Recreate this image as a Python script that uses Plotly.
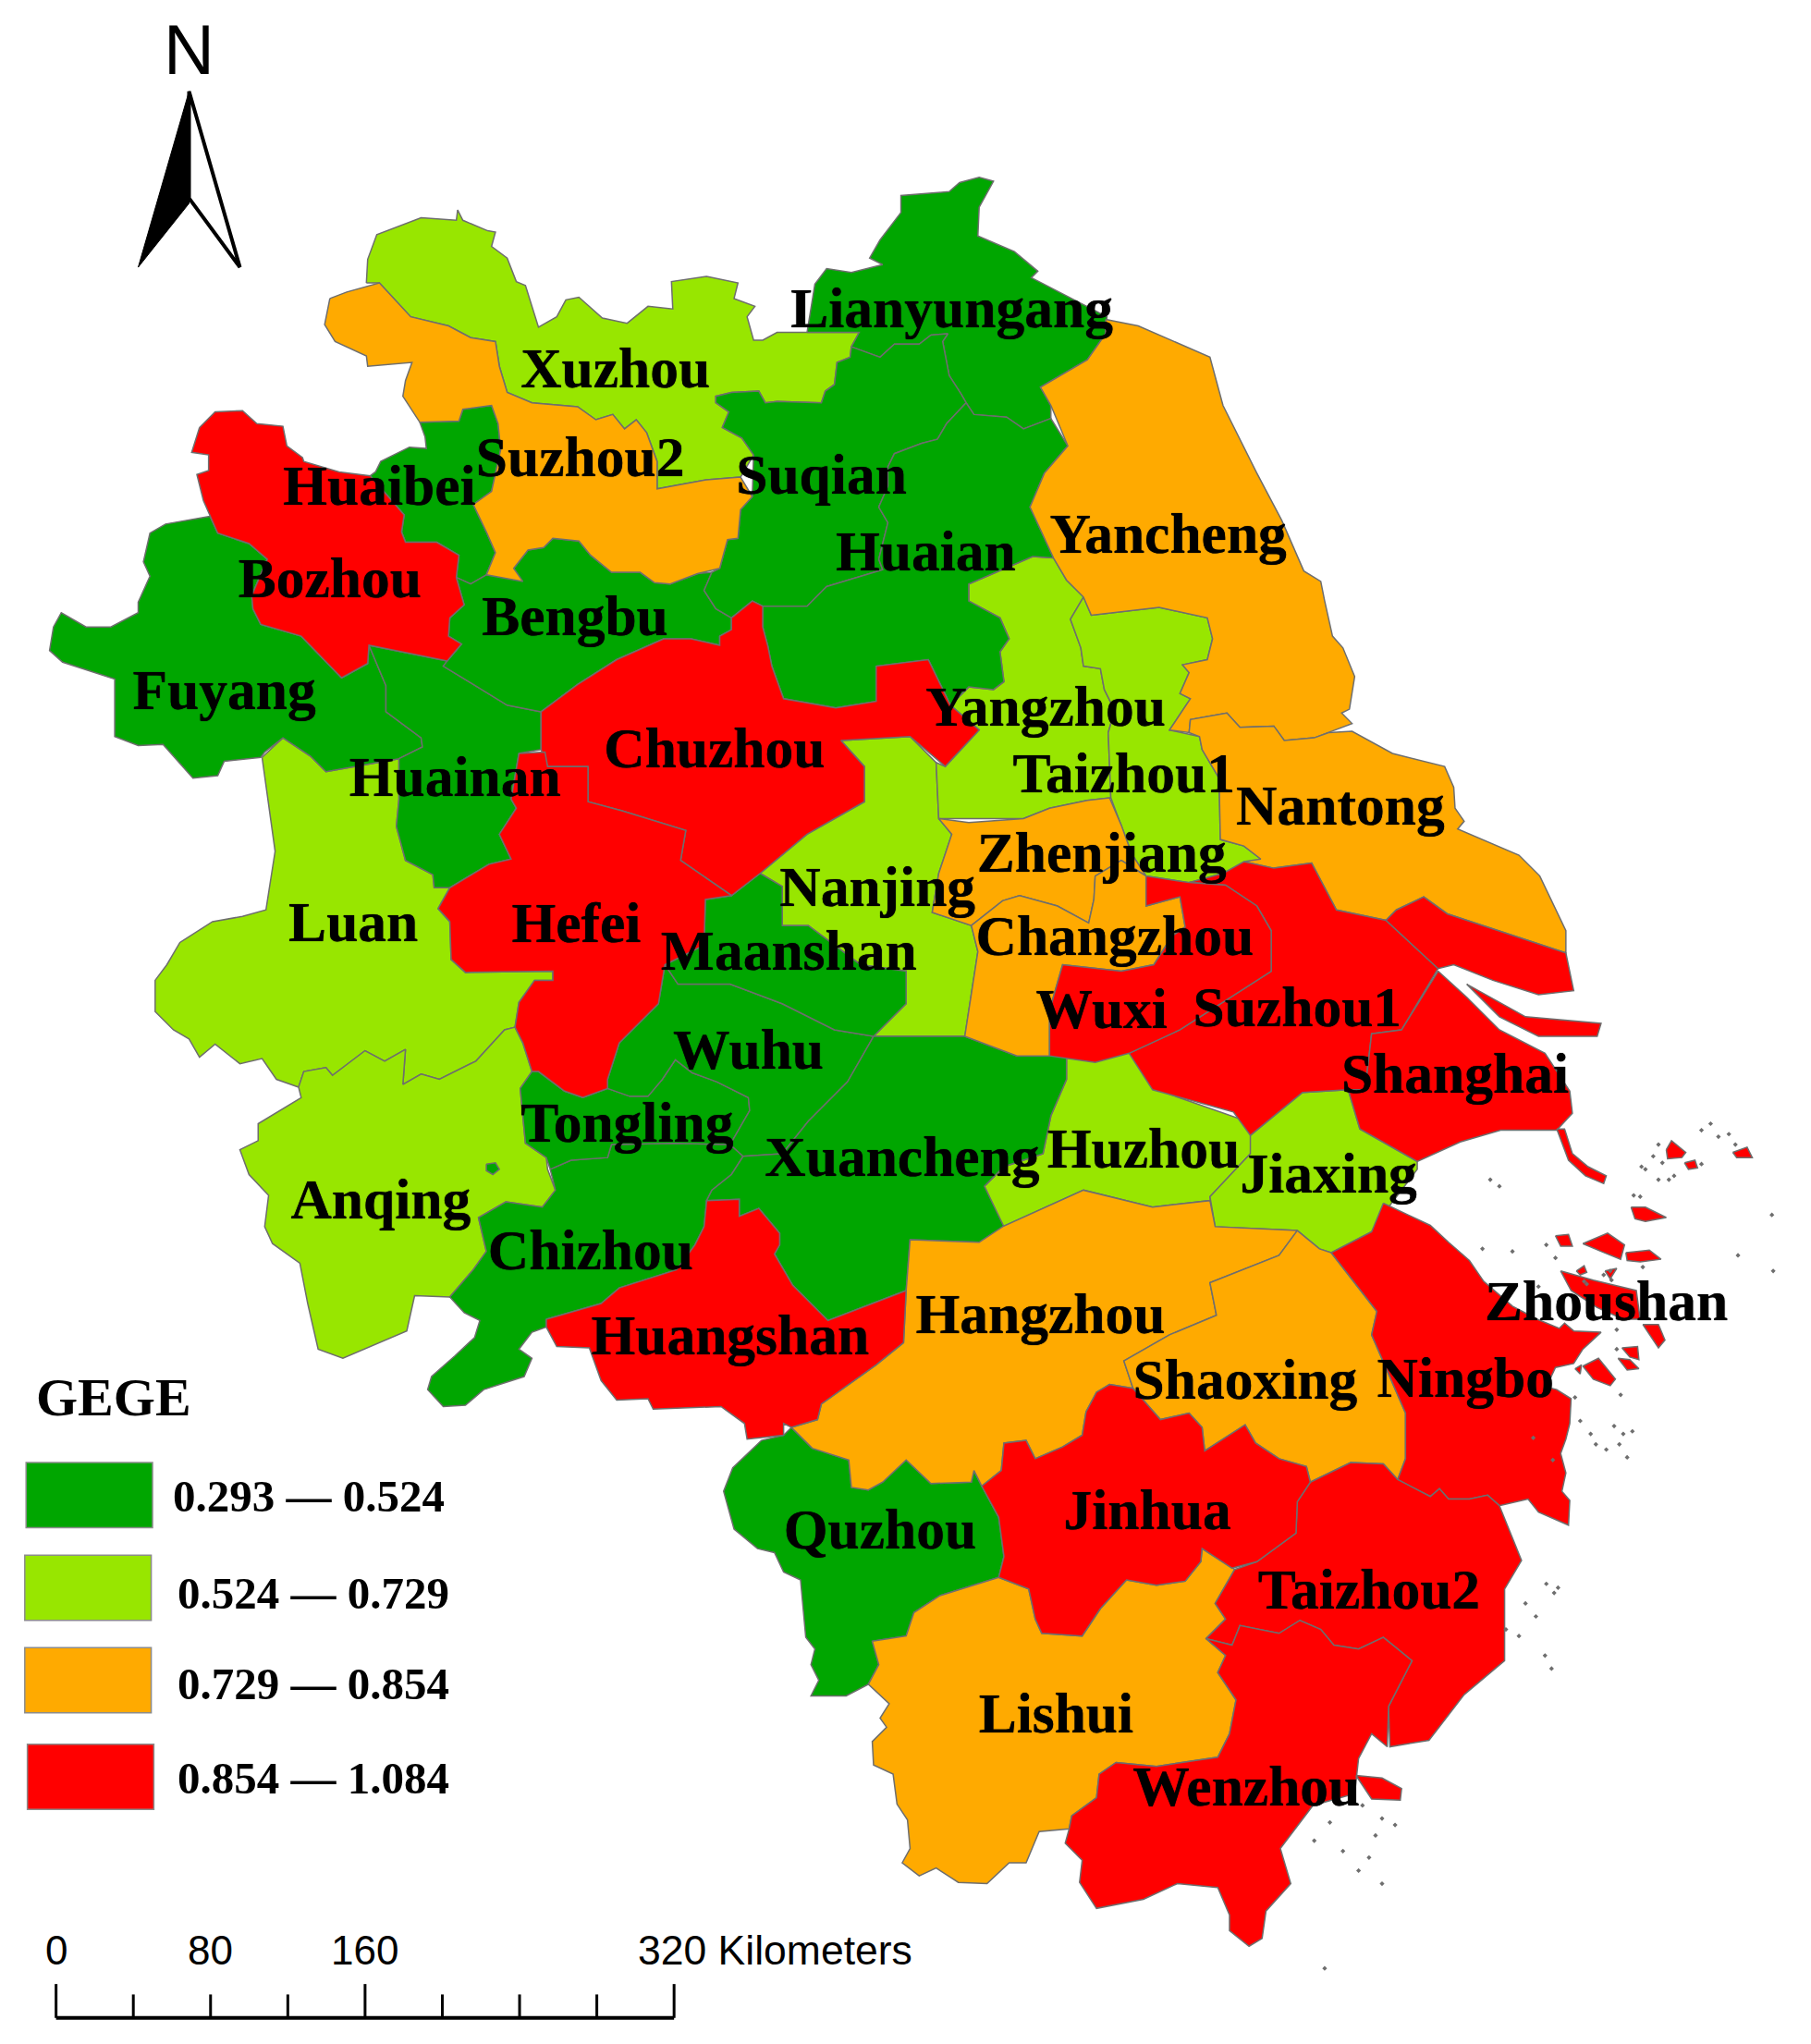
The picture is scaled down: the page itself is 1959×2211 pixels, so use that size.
"""Yangtze delta GEGE map, drawn as filled polygons on a hidden pixel-like plane."""
import plotly.graph_objects as go

W, H = 1389, 1568

GREEN = "#00A600"
LIME = "#98E600"
ORANGE = "#FFAA00"
RED = "#FF0000"
EDGE = "#6E6E6E"

XUZHOU = [(281,217),(282,199),(289,180),(323,167),(350,169),(351,161),(355,169),(374,177),(380,178),(377,189),(389,198),(396,216),(403,219),(413,251),(427,243),(434,230),(444,228),(462,244),(481,248),(497,235),(516,237),(515,216),(542,212),(566,217),(563,229),(579,235),(573,243),(578,261),(585,261),(596,255),(659,255),(653,266),(652,274),(642,278),(640,295),(633,300),(630,309),(596,308),(587,309),(582,300),(561,301),(549,304),(549,309),(559,316),(554,328),(569,336),(578,349),(568,366),(542,368),(504,375),(504,354),(496,332),(488,322),(479,329),(470,318),(457,322),(443,312),(408,309),(389,301),(383,281),(380,262),(361,259),(344,250),(315,243),(291,217)]
SUZHOU2 = [(253,229),(266,224),(291,217),(315,243),(344,250),(361,259),(380,262),(383,281),(389,301),(408,309),(443,312),(457,322),(470,318),(479,329),(488,322),(496,332),(504,354),(504,375),(542,368),(568,366),(577,381),(568,391),(566,413),(558,414),(552,436),(535,440),(514,448),(502,447),(491,439),(469,439),(453,426),(444,415),(424,413),(417,420),(405,422),(394,436),(401,446),(389,444),(373,441),(380,424),(373,408),(363,387),(377,377),(384,345),(382,325),(377,311),(355,314),(352,323),(322,324),(309,304),(311,292),(316,278),(282,281),(281,273),(257,262),(249,249)]
HUAIBEI = [(322,324),(352,323),(355,314),(377,311),(382,325),(384,345),(377,377),(363,387),(373,408),(380,424),(373,441),(361,448),(350,443),(352,426),(335,416),(311,416),(308,408),(310,395),(284,365),(288,362),(292,354),(314,343),(327,344),(326,335)]
BOZHOU = [(153,328),(165,316),(186,315),(197,325),(217,327),(220,342),(232,351),(233,354),(260,362),(284,365),(310,395),(308,408),(311,416),(335,416),(352,426),(350,443),(356,464),(345,474),(344,488),(354,494),(343,507),(283,495),(282,509),(262,520),(231,488),(200,479),(194,467),(193,457),(205,429),(191,417),(167,409),(161,396),(156,384),(151,364),(160,361),(160,349),(147,347)]
FUYANG = [(161,396),(167,409),(191,417),(205,429),(193,457),(194,467),(200,479),(231,488),(262,520),(282,509),(283,495),(296,526),(296,546),(323,566),(324,573),(306,582),(250,592),(238,580),(217,566),(203,577),(200,581),(172,584),(167,595),(148,597),(125,571),(106,572),(88,565),(88,521),(48,508),(38,499),(41,481),(47,470),(66,481),(85,481),(106,470),(106,462),(115,442),(110,431),(115,409),(127,402)]
HUAINAN = [(283,495),(343,507),(340,511),(389,541),(415,546),(415,575),(398,578),(392,613),(396,620),(383,640),(392,659),(375,663),(345,681),(333,681),(332,671),(311,660),(304,634),(306,613),(306,582),(324,573),(323,566),(296,546),(296,526)]
BENGBU = [(373,441),(394,436),(405,422),(417,420),(424,413),(444,415),(453,426),(469,439),(491,439),(502,447),(514,448),(535,440),(546,439),(540,453),(549,467),(561,474),(561,483),(552,488),(552,495),(530,490),(509,490),(473,506),(443,525),(415,546),(389,541),(340,511),(343,507),(354,494),(344,488),(345,474),(356,464),(350,443),(361,448)]
CHUZHOU = [(415,546),(443,525),(473,506),(509,490),(530,490),(552,495),(552,488),(561,483),(561,474),(577,461),(585,465),(585,481),(589,496),(592,511),(601,536),(641,543),(672,538),(672,511),(712,506),(729,541),(751,560),(725,588),(698,565),(645,568),(663,588),(663,615),(619,640),(583,670),(561,687),(522,660),(526,637),(477,622),(451,615),(451,588),(420,588),(415,575)]
HEFEI = [(398,578),(418,577),(420,588),(451,588),(451,615),(477,622),(526,637),(522,660),(561,687),(541,690),(540,725),(510,740),(505,770),(475,800),(466,828),(466,835),(447,842),(433,837),(413,822),(408,822),(401,800),(395,788),(398,769),(410,752),(424,752),(424,745),(357,746),(346,736),(345,707),(336,697),(345,681),(375,663),(392,659),(383,640),(396,620),(392,613)]
LUAN = [(201,581),(217,566),(238,580),(250,592),(306,582),(306,613),(304,634),(311,660),(332,671),(333,681),(345,681),(336,697),(345,707),(346,736),(357,746),(424,745),(424,752),(410,752),(398,769),(395,788),(387,790),(365,814),(337,828),(323,824),(309,832),(311,805),(295,814),(280,806),(255,825),(250,819),(233,822),(229,834),(212,828),(201,812),(184,816),(165,801),(153,811),(145,797),(133,790),(119,776),(119,752),(128,740),(138,723),(163,707),(186,703),(204,698),(211,653),(207,623)]
ANQING = [(229,834),(233,822),(250,819),(255,825),(280,806),(295,814),(311,805),(309,832),(323,824),(337,828),(365,814),(387,790),(395,788),(401,800),(408,822),(399,835),(403,877),(419,888),(420,897),(426,913),(416,926),(388,922),(367,934),(373,960),(363,974),(345,995),(318,994),(312,1021),(263,1042),(244,1035),(236,1000),(230,969),(209,954),(203,941),(206,917),(191,901),(184,882),(198,875),(198,862),(231,842)]
ANQING_POND = [(373,893),(380,892),(383,897),(378,901),(373,898)]
CHIZHOU = [(422,897),(438,890),(466,888),(469,878),(517,877),(560,878),(570,887),(561,901),(546,913),(542,921),(540,941),(533,955),(519,974),(475,988),(461,1000),(419,1012),(419,1018),(408,1022),(398,1035),(408,1042),(402,1056),(371,1066),(357,1078),(340,1079),(328,1066),(331,1056),(349,1040),(364,1026),(368,1013),(356,1007),(345,995),(363,974),(373,960),(367,934),(388,922),(416,926),(426,913)]
TONGLING = [(399,835),(408,822),(413,822),(433,837),(447,842),(466,835),(483,841),(497,841),(508,828),(518,813),(531,823),(550,830),(574,842),(575,852),(560,878),(517,877),(469,878),(466,888),(438,890),(422,897),(419,888),(403,877)]
WUHU = [(466,835),(466,828),(475,800),(505,770),(510,740),(520,755),(560,755),(600,770),(640,790),(670,795),(650,830),(620,860),(600,885),(570,887),(560,878),(575,852),(574,842),(550,830),(531,823),(518,813),(508,828),(497,841),(483,841)]
MAANSHAN = [(541,690),(561,687),(583,670),(600,680),(600,710),(620,710),(660,740),(695,745),(695,770),(670,795),(640,790),(600,770),(560,755),(520,755),(510,740),(540,725)]
NANJING = [(645,568),(698,565),(718,585),(720,628),(730,640),(720,670),(715,700),(745,710),(750,730),(740,795),(670,795),(695,770),(695,745),(660,740),(620,710),(600,710),(600,680),(583,670),(619,640),(663,615),(663,588)]
XUANCHENG = [(670,795),(740,795),(780,810),(818,808),(818,828),(806,856),(800,885),(770,895),(755,910),(770,941),(751,953),(698,951),(695,990),(635,1013),(608,986),(594,962),(598,955),(598,946),(582,927),(567,933),(567,920),(542,921),(546,913),(561,901),(570,887),(600,885),(620,860),(650,830)]
HUANGSHAN = [(419,1012),(461,1000),(475,988),(519,974),(533,955),(540,941),(542,921),(567,920),(567,933),(582,927),(598,946),(598,955),(594,962),(608,986),(635,1013),(695,990),(693,1030),(672,1047),(630,1077),(627,1089),(607,1095),(601,1092),(601,1101),(573,1104),(571,1092),(553,1079),(501,1081),(497,1073),(473,1074),(461,1059),(452,1034),(427,1033),(419,1018)]
HUZHOU = [(818,808),(871,808),(893,838),(950,858),(964,873),(959,885),(928,918),(932,941),(928,921),(884,926),(831,913),(769,941),(755,910),(770,895),(800,885),(806,856),(818,828)]
JIAXING = [(959,871),(999,838),(1034,836),(1043,866),(1087,891),(1087,897),(1062,930),(1052,945),(1021,961),(1012,958),(995,944),(932,941),(928,918),(959,885)]
SUZHOU1 = [(866,808),(905,790),(975,745),(975,714),(964,695),(940,679),(912,677),(938,670),(954,661),(977,666),(1006,662),(1025,698),(1063,706),(1103,743),(1075,790),(1052,793),(1047,836),(1034,836),(999,838),(959,871),(946,853),(884,836)]
SHANGHAI = [(1103,745),(1125,765),(1150,790),(1185,808),(1204,837),(1206,854),(1194,867),(1151,867),(1120,876),(1087,891),(1043,866),(1034,836),(1047,836),(1052,793),(1075,790)]
SHANGHAI_TAIL = [(1194,866),(1200,866),(1206,885),(1218,895),(1232,902),(1230,908),(1216,902),(1203,890)]
CHONGMING = [(1063,706),(1071,698),(1092,688),(1110,701),(1201,731),(1207,760),(1180,763),(1145,752),(1115,740),(1103,743)]
HENGSHA = [(1125,755),(1170,780),(1228,785),(1225,795),(1180,795),(1150,780)]
WUXI = [(805,775),(815,740),(860,745),(885,740),(899,718),(909,711),(905,688),(879,695),(879,672),(912,677),(940,679),(964,695),(975,714),(975,745),(905,790),(866,808),(840,815),(805,810)]
CHANGZHOU = [(745,710),(769,691),(782,687),(811,695),(835,708),(839,690),(840,672),(860,660),(879,672),(879,695),(905,688),(909,711),(899,718),(885,740),(860,745),(815,740),(805,775),(805,810),(780,810),(740,795),(750,730)]
ZHENJIANG = [(720,628),(743,631),(785,628),(805,620),(834,614),(851,612),(860,633),(868,655),(879,672),(860,660),(840,672),(839,690),(835,708),(811,695),(782,687),(769,691),(745,710),(715,700),(720,670),(730,640)]
YANGZHOU = [(743,448),(792,427),(808,428),(818,445),(831,458),(821,475),(829,497),(831,511),(844,513),(847,529),(855,545),(850,562),(852,612),(834,614),(805,620),(785,628),(743,628),(720,628),(718,585),(725,588),(751,560),(729,541),(743,527),(762,529),(770,523),(767,500),(774,490),(767,474),(743,461)]
TAIZHOU1 = [(831,458),(837,472),(889,466),(926,474),(930,490),(926,506),(907,510),(912,516),(905,532),(913,536),(897,560),(920,565),(922,575),(935,597),(936,644),(954,649),(967,659),(938,670),(912,677),(879,672),(868,655),(860,633),(852,612),(850,562),(855,545),(847,529),(844,513),(831,511),(829,497),(821,475)]
YANCHENG = [(848,245),(873,250),(928,274),(938,311),(964,363),(983,399),(1000,438),(1013,446),(1016,461),(1022,488),(1030,497),(1039,519),(1035,544),(1029,547),(1037,555),(1019,562),(1008,566),(985,568),(977,557),(951,558),(941,547),(913,552),(912,562),(897,560),(913,536),(905,532),(912,516),(907,510),(926,506),(930,490),(926,474),(889,466),(837,472),(831,458),(818,445),(808,428),(790,389),(801,363),(819,342),(806,311),(798,297),(834,276),(848,256)]
NANTONG = [(912,562),(913,552),(941,547),(951,558),(977,557),(985,568),(1008,566),(1019,562),(1037,561),(1068,578),(1108,588),(1115,604),(1116,620),(1123,630),(1118,636),(1165,656),(1181,672),(1201,714),(1201,731),(1110,701),(1092,688),(1071,698),(1063,706),(1025,698),(1006,662),(977,666),(954,661),(967,659),(954,649),(936,644),(935,597),(922,575),(920,565)]
LIANYUNGANG = [(619,255),(625,218),(634,206),(653,209),(677,203),(667,198),(675,184),(691,163),(691,150),(728,147),(736,140),(751,136),(762,139),(751,159),(750,181),(778,193),(796,208),(791,213),(849,243),(848,256),(834,276),(798,297),(806,311),(806,321),(785,329),(772,320),(747,318),(741,309),(737,302),(728,288),(723,262),(727,256),(714,257),(705,264),(686,264),(675,274),(653,266),(659,255)]
SUQIAN = [(653,266),(675,274),(686,264),(705,264),(714,257),(727,256),(723,262),(728,288),(737,302),(741,309),(726,325),(719,337),(707,340),(686,348),(681,358),(681,373),(674,389),(681,401),(674,429),(677,437),(634,450),(619,465),(585,465),(577,461),(561,474),(549,467),(540,453),(546,439),(552,436),(558,414),(566,413),(568,391),(577,381),(578,349),(569,336),(554,328),(559,316),(549,309),(549,304),(561,301),(582,300),(587,309),(596,308),(630,309),(633,300),(640,295),(642,278),(652,274)]
HUAIAN = [(741,309),(747,318),(772,320),(785,329),(806,321),(819,342),(801,363),(790,389),(808,428),(792,427),(743,448),(743,461),(767,474),(774,490),(767,500),(770,523),(762,529),(743,527),(729,541),(712,506),(672,511),(672,538),(641,543),(601,536),(592,511),(589,496),(585,481),(585,465),(619,465),(634,450),(677,437),(674,429),(681,401),(674,389),(681,373),(681,358),(686,348),(707,340),(719,337),(726,325)]
HANGZHOU = [(698,951),(751,953),(769,941),(831,913),(884,926),(928,921),(932,941),(995,944),(981,963),(928,984),(933,1009),(897,1024),(862,1044),(869,1065),(851,1062),(841,1068),(833,1083),(830,1101),(815,1110),(794,1119),(787,1105),(770,1107),(768,1128),(753,1140),(747,1128),(745,1137),(714,1138),(695,1120),(677,1137),(666,1143),(653,1141),(651,1120),(623,1111),(607,1095),(627,1089),(630,1077),(672,1047),(693,1030),(695,990)]
SHAOXING = [(995,944),(1012,958),(1021,961),(1056,1006),(1052,1024),(1078,1084),(1078,1119),(1072,1135),(1061,1123),(1036,1122),(1005,1137),(1002,1125),(981,1119),(963,1107),(955,1093),(924,1113),(922,1095),(912,1084),(890,1089),(869,1065),(862,1044),(897,1024),(933,1009),(928,984),(981,963)]
NINGBO = [(1061,923),(1097,940),(1111,953),(1127,967),(1138,983),(1160,1002),(1179,1012),(1196,1019),(1200,1015),(1207,1021),(1228,1022),(1214,1035),(1207,1046),(1193,1049),(1186,1064),(1194,1066),(1205,1073),(1204,1092),(1201,1104),(1197,1115),(1201,1130),(1198,1144),(1204,1151),(1203,1170),(1180,1160),(1172,1150),(1150,1155),(1141,1147),(1127,1150),(1111,1150),(1104,1142),(1097,1148),(1072,1135),(1078,1119),(1078,1084),(1052,1024),(1056,1006),(1021,961),(1052,945)]
TAIZHOU2 = [(1005,1137),(1036,1122),(1061,1123),(1072,1135),(1097,1148),(1104,1142),(1111,1150),(1127,1150),(1141,1147),(1150,1155),(1167,1197),(1154,1219),(1154,1274),(1123,1300),(1096,1335),(1066,1340),(1065,1309),(1083,1274),(1061,1256),(1042,1265),(1023,1262),(1013,1250),(997,1243),(981,1253),(951,1247),(945,1262),(925,1257),(940,1242),(932,1230),(947,1204),(964,1198),(994,1176),(995,1152)]
WENZHOU = [(925,1257),(945,1262),(951,1247),(981,1253),(997,1243),(1013,1250),(1023,1262),(1042,1265),(1061,1256),(1083,1274),(1065,1309),(1064,1340),(1052,1330),(1042,1349),(1039,1376),(1007,1385),(982,1418),(990,1445),(971,1466),(968,1487),(958,1493),(943,1481),(943,1469),(934,1448),(903,1445),(877,1457),(841,1464),(828,1444),(830,1427),(817,1414),(820,1403),(822,1393),(841,1379),(843,1361),(856,1352),(887,1355),(934,1348),(943,1330),(948,1304),(934,1283),(940,1270)]
DONGTOU = [(1040,1362),(1060,1364),(1075,1372),(1074,1381),(1052,1380)]
JINHUA = [(753,1140),(768,1128),(770,1107),(787,1105),(794,1119),(815,1110),(830,1101),(833,1083),(841,1068),(851,1062),(869,1065),(890,1089),(912,1084),(922,1095),(924,1113),(955,1093),(963,1107),(981,1119),(1002,1125),(1005,1137),(995,1152),(994,1176),(964,1198),(945,1203),(922,1188),(921,1198),(909,1213),(887,1216),(864,1212),(844,1234),(830,1255),(799,1253),(794,1242),(789,1219),(766,1210),(770,1194),(766,1164)]
QUZHOU = [(601,1101),(607,1095),(623,1111),(651,1120),(653,1141),(666,1143),(677,1137),(695,1120),(714,1138),(745,1137),(747,1128),(753,1140),(766,1164),(770,1194),(766,1210),(721,1224),(701,1237),(695,1255),(669,1259),(674,1277),(666,1292),(649,1301),(622,1301),(628,1289),(622,1277),(625,1265),(618,1256),(614,1212),(601,1206),(594,1191),(581,1188),(563,1173),(555,1144),(562,1126),(584,1105)]
LISHUI = [(669,1259),(695,1255),(701,1237),(721,1224),(766,1210),(789,1219),(794,1242),(799,1253),(830,1255),(844,1234),(864,1212),(887,1216),(909,1213),(921,1198),(922,1188),(945,1203),(947,1204),(932,1230),(940,1242),(925,1257),(940,1270),(934,1283),(948,1304),(943,1330),(934,1348),(887,1355),(856,1352),(843,1361),(841,1379),(822,1393),(820,1403),(797,1405),(787,1429),(774,1429),(757,1445),(735,1444),(718,1433),(705,1439),(692,1429),(698,1418),(696,1396),(688,1384),(685,1361),(670,1354),(669,1336),(680,1325),(675,1318),(682,1307),(666,1292),(674,1277)]

ISLE_A = [(1251,926),(1262,926),(1278,934),(1262,937),(1254,935)]
ISLE_B = [(1193,948),(1203,947),(1206,956),(1197,956)]
ISLE_C = [(1214,954),(1233,946),(1246,955),(1243,966),(1228,960)]
ISLE_D = [(1247,961),(1265,959),(1274,966),(1258,968),(1248,967)]
ISLE_E = [(1197,975),(1222,982),(1255,990),(1258,1012),(1245,1012),(1225,1003),(1205,990)]
ISLE_F = [(1260,1016),(1272,1016),(1277,1028),(1272,1034),(1266,1025)]
ISLE_G = [(1244,1034),(1256,1033),(1257,1043),(1250,1041)]
ISLE_H = [(1241,1042),(1250,1043),(1257,1050),(1248,1051)]
ISLE_I = [(1214,1048),(1226,1042),(1239,1058),(1235,1063),(1222,1058)]
ISLE_J = [(1208,1050),(1213,1047),(1212,1054)]
ISLE_K = [(1209,975),(1215,971),(1217,976),(1212,978)]
ISLE_L = [(1231,975),(1240,973),(1235,981)]
ISLE_M = [(1278,882),(1282,875),(1293,884),(1290,888),(1279,889)]
ISLE_N = [(1329,884),(1340,880),(1344,888),(1332,888)]
ISLE_O = [(1292,892),(1300,890),(1302,896),(1295,897)]
ISLANDS = [ISLE_A, ISLE_B, ISLE_C, ISLE_D, ISLE_E, ISLE_F, ISLE_G, ISLE_H, ISLE_I, ISLE_J, ISLE_K, ISLE_L, ISLE_M, ISLE_N, ISLE_O]

SPECK_X = [1305,1312,1318,1326,1331,1272,1268,1275,1262,1259,1272,1280,1284,1305,1253,1258,1359,1333,1360,1186,1193,1180,1137,1160,1143,1150,1260,1235,1240,1217,1215,1230,1236,1240,1243,1208,1212,1220,1224,1232,1238,1176,1191,1245,1242,1248,1252,1186,1195,1192,1178,1170,1155,1165,1185,1190,1070,1060,1045,1055,1020,1008,1030,1042,1050,1060,1016]
SPECK_Y = [867,862,872,870,878,878,887,892,897,895,905,905,902,893,917,918,932,963,975,955,965,987,958,960,905,910,972,975,1035,985,983,978,982,1020,1070,1072,1090,1100,1108,1112,1094,1103,1120,1100,1108,1118,1098,1215,1218,1222,1240,1230,1250,1255,1270,1280,1400,1395,1385,1408,1398,1412,1420,1435,1425,1445,1510]

NAMES = ["Lianyungang","Xuzhou","Suzhou2","Huaibei","Suqian","Huaian","Yancheng","Bozhou","Bengbu","Fuyang","Yangzhou","Chuzhou","Taizhou1","Huainan","Nantong","Zhenjiang","Nanjing","Luan","Hefei","Changzhou","Maanshan","Wuxi","Suzhou1","Wuhu","Shanghai","Tongling","Xuancheng","Huzhou","Jiaxing","Anqing","Chizhou","Zhoushan","Hangzhou","Huangshan","Shaoxing","Ningbo","Jinhua","Quzhou","Taizhou2","Lishui","Wenzhou"]
NAME_X = [730,472,445,291,630,710,896,253,441,172,802,548,862,349,1028,845,673,271,442,855,605,845,995,574,1116,481,692,877,1019,292,453,1232,798,560,955,1124,880,675,1050,810,956]
NAME_Y = [240,286,354,376,368,427,413,447,476,533,546,578,597,600,622,658,684,711,712,722,733,778,776,809,827,865,891,885,904,924,963,1002,1012,1028,1062,1061,1162,1177,1223,1318,1374]

LEGEND_TITLE = "GEGE"
LEGEND_LABELS = ["0.293 — 0.524", "0.524 — 0.729", "0.729 — 0.854", "0.854 — 1.084"]
LEGEND_COLORS = [GREEN, LIME, ORANGE, RED]
LEGEND_X0 = [20, 19, 19, 21]
LEGEND_Y0 = [1122, 1193, 1264, 1338]
LEGEND_TEXT_X = [131, 135, 135, 135]
LEGEND_TEXT_Y = [1148, 1222, 1292, 1364]

SCALE_KM = [0, 40, 80, 120, 160, 200, 240, 280, 320]
SCALE_LABELS = {0: "0", 80: "80", 160: "160"}
PX_PER_KM = (517 - 43) / 320


def polygon(points, fill, edge=EDGE, width=1.5):
    return go.Scatter(
        x=[p[0] for p in points] + [points[0][0]],
        y=[p[1] for p in points] + [points[0][1]],
        mode="lines", fill="toself", fillcolor=fill,
        line=dict(color=edge, width=width),
        hoverinfo="skip", showlegend=False,
    )


GREEN_REGIONS = [HUAIBEI, FUYANG, HUAINAN, BENGBU, CHIZHOU, TONGLING, WUHU, MAANSHAN, XUANCHENG, LIANYUNGANG, SUQIAN, HUAIAN, QUZHOU]
LIME_REGIONS = [XUZHOU, LUAN, ANQING, NANJING, HUZHOU, JIAXING, YANGZHOU, TAIZHOU1]
ORANGE_REGIONS = [SUZHOU2, ZHENJIANG, CHANGZHOU, YANCHENG, NANTONG, HANGZHOU, SHAOXING, LISHUI]
RED_REGIONS = [BOZHOU, CHUZHOU, HEFEI, HUANGSHAN, SUZHOU1, SHANGHAI, SHANGHAI_TAIL, CHONGMING, HENGSHA, WUXI, NINGBO, TAIZHOU2, WENZHOU, DONGTOU, JINHUA]

fig = go.Figure()
for regions, color in [(LIME_REGIONS, LIME), (GREEN_REGIONS, GREEN), (ORANGE_REGIONS, ORANGE), (RED_REGIONS, RED)]:
    for region in regions:
        fig.add_trace(polygon(region, color))
fig.add_trace(polygon(ANQING_POND, GREEN))
for isle in ISLANDS:
    fig.add_trace(polygon(isle, RED))

fig.add_trace(go.Scatter(
    x=SPECK_X, y=SPECK_Y, mode="markers",
    marker=dict(color=EDGE, size=4, symbol="diamond"),
    hoverinfo="skip", showlegend=False,
))

# city names
fig.add_trace(go.Scatter(
    x=NAME_X, y=NAME_Y, mode="text", text=NAMES, textposition="middle center",
    textfont=dict(family="Liberation Serif", size=61.5, color="black", weight="bold",
                  shadow="0 0 1px black"),
    hoverinfo="skip", showlegend=False,
))

# north arrow
fig.add_trace(polygon([(145, 70), (184, 205), (145, 152)], "white", edge="black", width=4))
fig.add_trace(polygon([(145, 70), (106, 205), (145, 156)], "black", edge="black", width=1))
fig.add_annotation(x=145, y=38, text="N", showarrow=False,
                   font=dict(family="Liberation Sans", size=76, color="black"))

# legend
fig.add_annotation(x=26, y=1072, text=LEGEND_TITLE, showarrow=False, xanchor="left",
                   font=dict(family="Liberation Serif", size=58, color="black", weight="bold"))
for label, color, x0, y0, tx, ty in zip(LEGEND_LABELS, LEGEND_COLORS, LEGEND_X0, LEGEND_Y0, LEGEND_TEXT_X, LEGEND_TEXT_Y):
    fig.add_shape(type="rect", x0=x0, x1=x0 + 97, y0=y0, y1=y0 + 50,
                  fillcolor=color, line=dict(color="#8c8c8c", width=1.5))
    fig.add_annotation(x=tx, y=ty, text=label, showarrow=False, xanchor="left",
                       font=dict(family="Liberation Serif", size=49, color="black", weight="bold"))

# scale bar
for km in SCALE_KM:
    px = 43 + km * PX_PER_KM
    tall = km in (0, 160, 320)
    fig.add_shape(type="line", x0=px, x1=px, y0=1548, y1=1522 if tall else 1530,
                  line=dict(color="black", width=3))
fig.add_shape(type="line", x0=43, x1=517, y0=1548, y1=1548, line=dict(color="black", width=4))
for km, label in SCALE_LABELS.items():
    fig.add_annotation(x=43 + km * PX_PER_KM, y=1496, text=label, showarrow=False,
                       font=dict(family="Liberation Sans", size=44, color="black"))
fig.add_annotation(x=488, y=1496, text="320 Kilometers", showarrow=False, xanchor="left",
                   font=dict(family="Liberation Sans", size=44.5, color="black"))

fig.update_layout(
    width=1959, height=2211,
    margin=dict(l=0, r=0, t=0, b=0),
    paper_bgcolor="white", plot_bgcolor="white",
    showlegend=False,
    xaxis=dict(range=[0, W], visible=False, fixedrange=True),
    yaxis=dict(range=[H, 0], visible=False, fixedrange=True),
)
fig.write_html("out.html", config={"displayModeBar": False},
               post_script="document.body.style.margin='0';")
